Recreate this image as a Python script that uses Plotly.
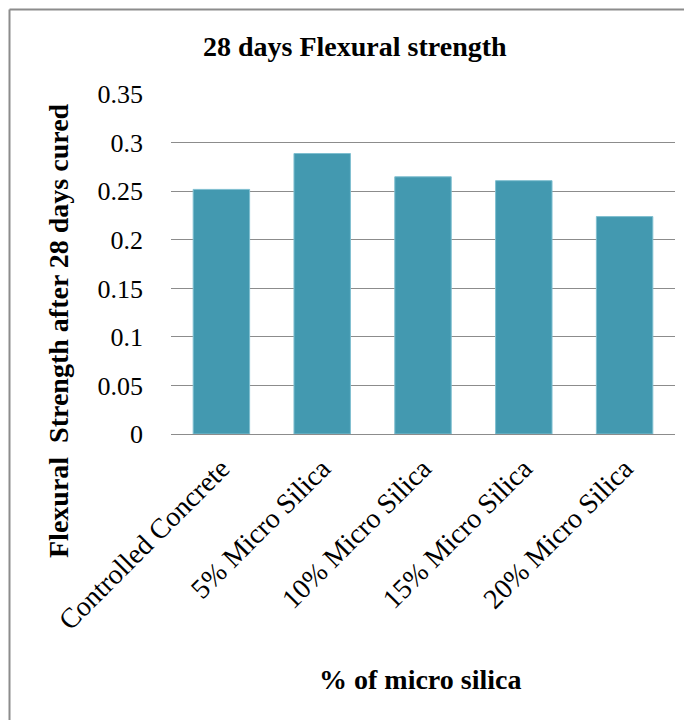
import plotly.graph_objects as go

categories = ["Controlled Concrete", "5% Micro Silica", "10% Micro Silica", "15% Micro Silica", "20% Micro Silica"]
values = [0.252, 0.289, 0.265, 0.261, 0.224]
y_ticks = [0, 0.05, 0.1, 0.15, 0.2, 0.25, 0.3, 0.35]

# page has an 8px body margin, so figure coords = page coords - 8
W, H = 684, 712
L, R, T, B = 163, 17, 86, 286
pw, ph = W - L - R, H - T - B
OFF = 8

def px(x):
    return (x - OFF - L) / pw

def py(y):
    return (H - B - (y - OFF)) / ph

FONT = "Liberation Serif"

fig = go.Figure(go.Bar(
    x=categories, y=values,
    marker=dict(color="#4399B0", line=dict(color="#7FBFD0", width=1)),
    width=0.56,
))

fig.update_layout(
    width=W, height=H,
    margin=dict(l=L, r=R, t=T, b=B),
    paper_bgcolor="white", plot_bgcolor="white",
    showlegend=False,
    font=dict(family=FONT, size=26, color="black"),
    xaxis=dict(
        tickangle=-45, showgrid=False, showline=True, linecolor="#8c8c8c", linewidth=1,
        tickfont=dict(family=FONT, size=28), ticks="", ticklabelstandoff=6,
    ),
    yaxis=dict(
        range=[0, 0.3503], tickvals=y_ticks, ticktext=[f"{v:g}" for v in y_ticks],
        showgrid=True, gridcolor="#8c8c8c", gridwidth=1, zeroline=False, showline=False,
        tickfont=dict(family=FONT, size=26), ticklabelstandoff=27,
    ),
    annotations=[
        dict(text="<b>28 days Flexural strength</b>", x=px(355), y=py(46), xref="paper", yref="paper",
             showarrow=False, font=dict(family=FONT, size=28), xanchor="center", yanchor="middle"),
        dict(text="<b>Flexural  Strength after 28 days cured</b>", x=px(58), y=py(331), xref="paper", yref="paper",
             showarrow=False, textangle=-90, font=dict(family=FONT, size=28), xanchor="center", yanchor="middle"),
        dict(text="<b>% of micro silica</b>", x=px(420), y=py(679), xref="paper", yref="paper",
             showarrow=False, font=dict(family=FONT, size=28), xanchor="center", yanchor="middle"),
        dict(text="1", x=px(683), y=py(566), xref="paper", yref="paper", showarrow=False,
             font=dict(family=FONT, size=24), xanchor="left", yanchor="middle", borderpad=0),
        dict(text="2", x=px(683), y=py(712), xref="paper", yref="paper", showarrow=False,
             font=dict(family=FONT, size=24), xanchor="left", yanchor="middle", borderpad=0),
    ],
    shapes=[
        dict(type="line", xref="paper", yref="paper", x0=px(9.5), x1=px(720), y0=py(9.5), y1=py(9.5),
             line=dict(color="#8c8c8c", width=2)),
        dict(type="line", xref="paper", yref="paper", x0=px(9.5), x1=px(9.5), y0=py(9.5), y1=py(740),
             line=dict(color="#8c8c8c", width=2)),
    ],
)

fig.write_html("out.html")
